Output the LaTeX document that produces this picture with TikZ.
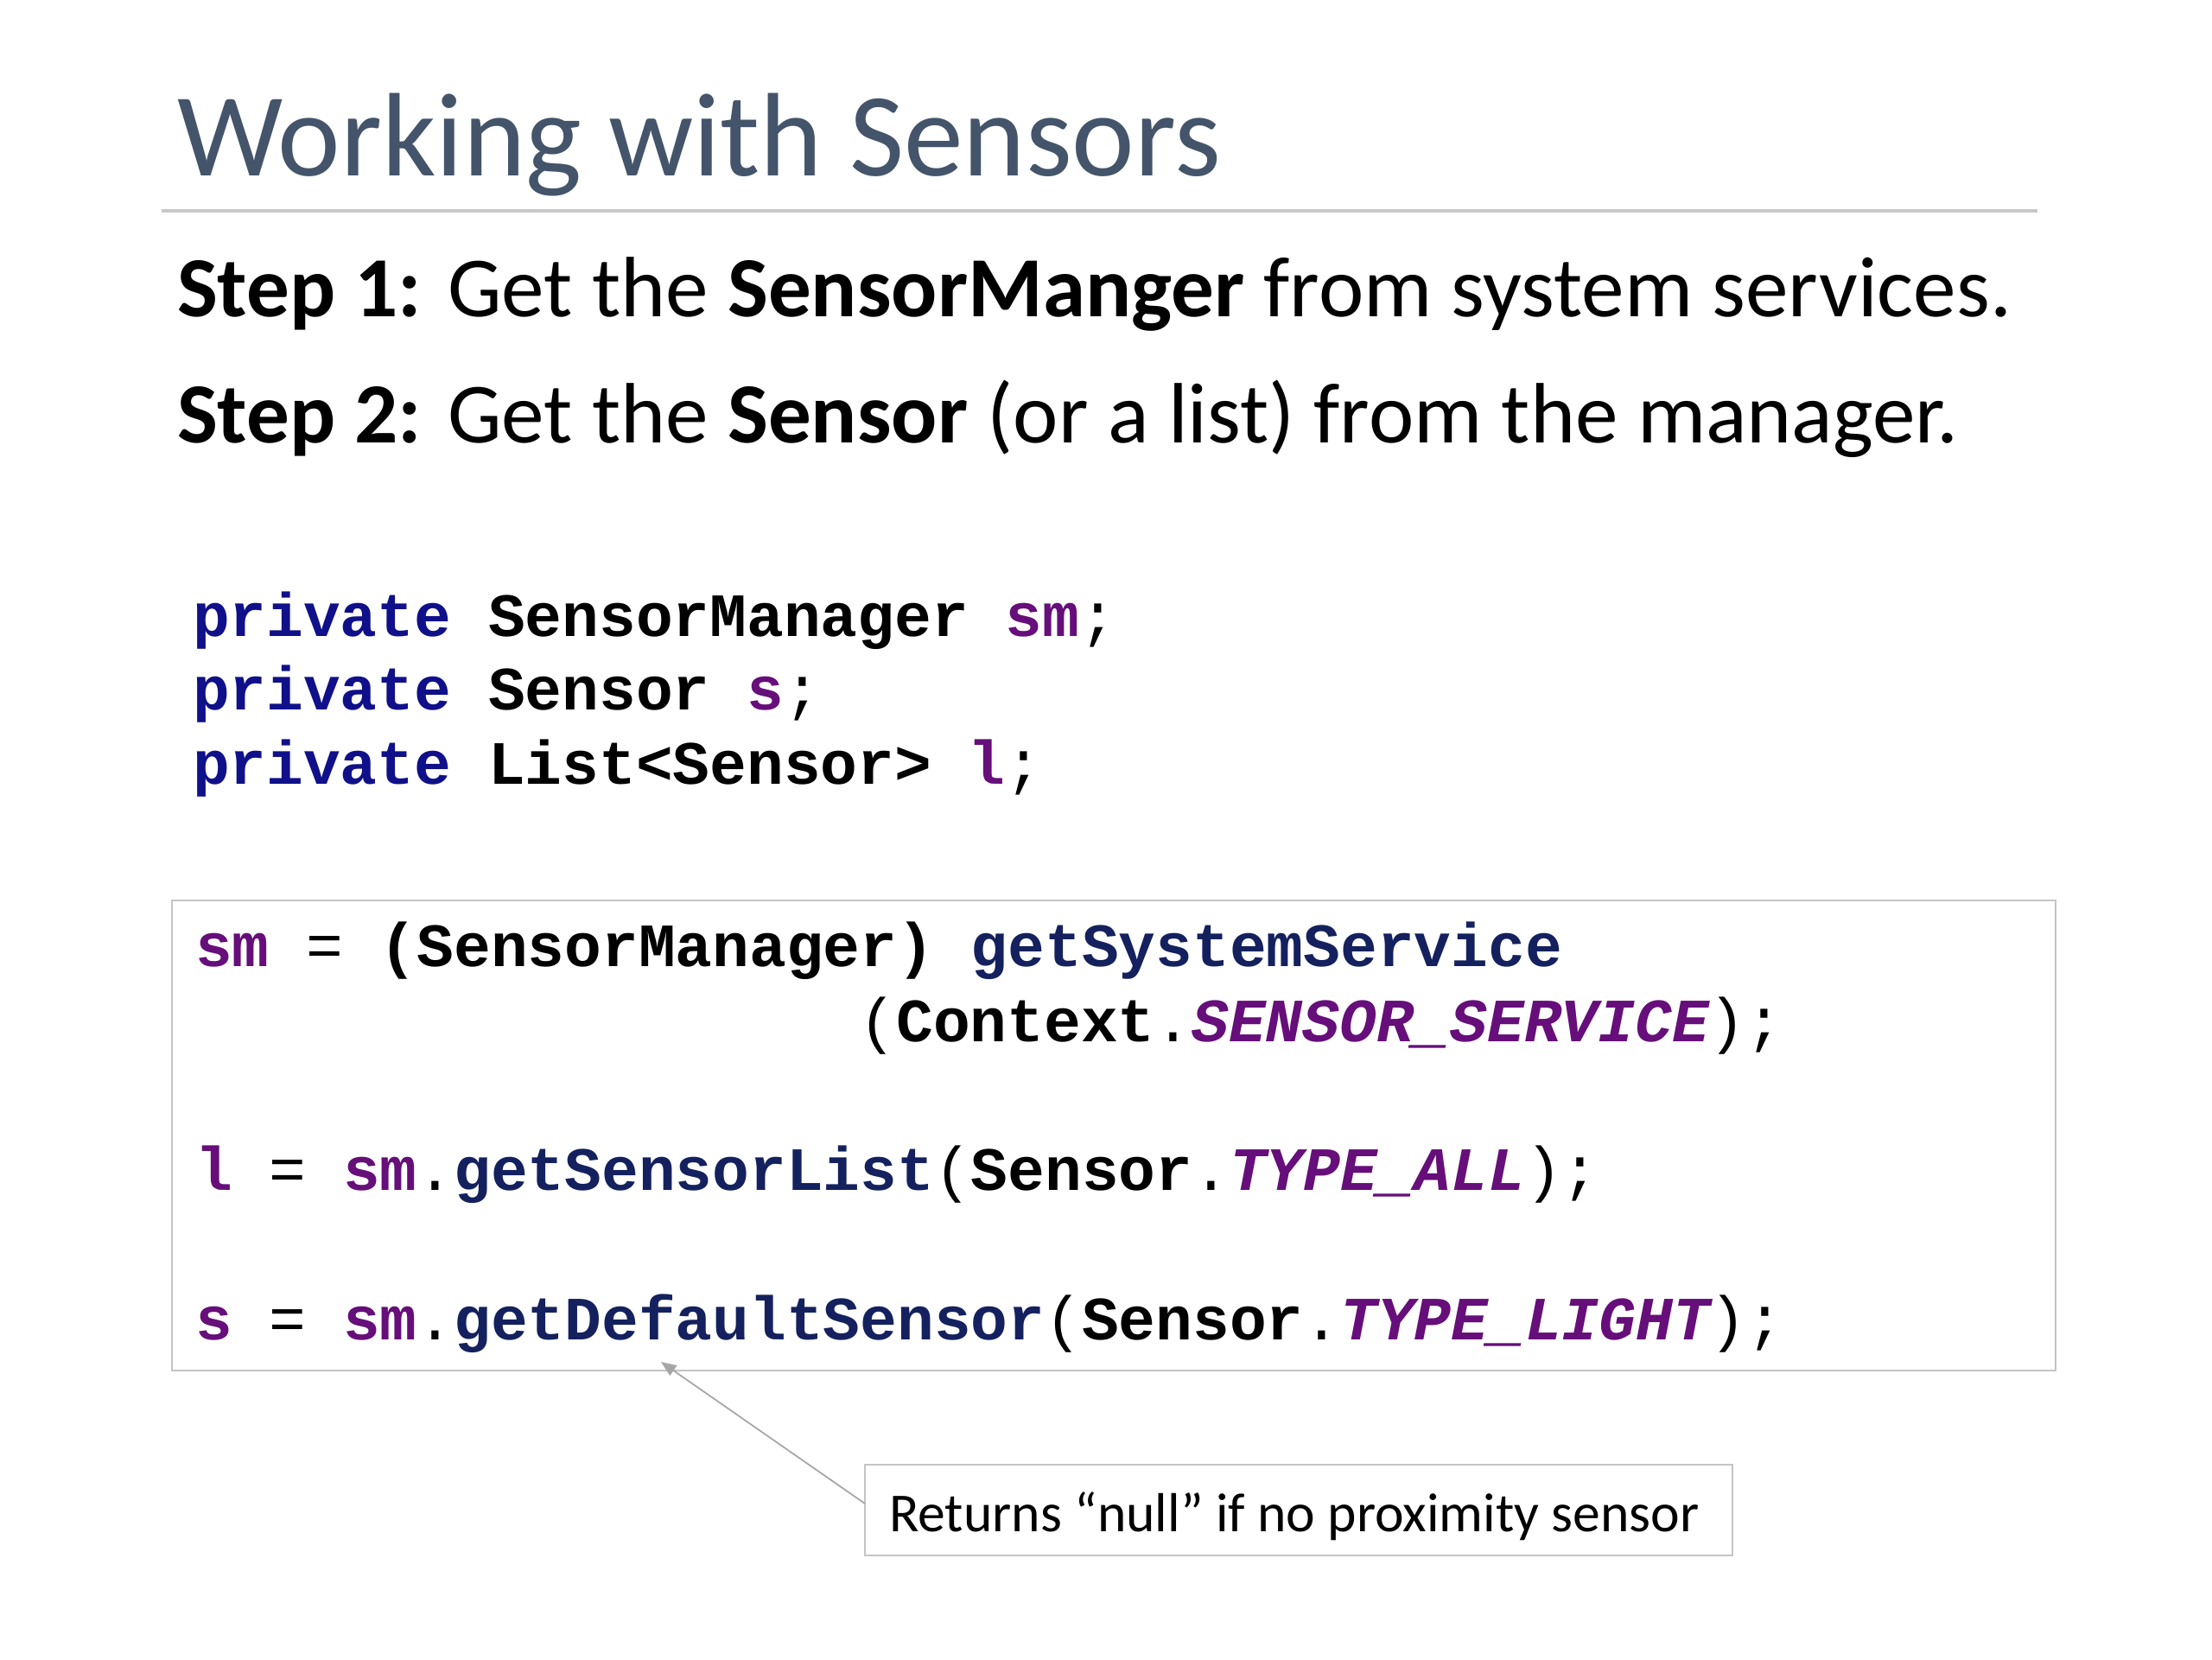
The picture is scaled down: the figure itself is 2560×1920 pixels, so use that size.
\documentclass[tikz,border=0pt]{standalone}
\usepackage{fontspec}
\setmainfont{Carlito}
\newfontfamily\codefont{Liberation Mono}
\usetikzlibrary{arrows.meta}
\definecolor{titlecol}{HTML}{44546A}
\definecolor{kwcol}{HTML}{10108A}
\definecolor{fieldcol}{HTML}{660E7A}
\definecolor{methcol}{HTML}{14215E}
\definecolor{rulecol}{HTML}{C8C8C8}
\definecolor{boxcol}{HTML}{C4C4C4}
\definecolor{arrcol}{HTML}{A6A6A6}
\newcommand{\kw}[1]{{\bfseries\color{kwcol}#1}}
\newcommand{\fld}[1]{{\bfseries\color{fieldcol}#1}}
\newcommand{\cst}[1]{{\bfseries\itshape\color{fieldcol}#1}}
\newcommand{\mth}[1]{{\bfseries\color{methcol}#1}}
\newcommand{\typ}[1]{{\bfseries\color{black}#1}}
\newcommand{\pun}[1]{{\mdseries\color{black}#1}}
\begin{document}
\begin{tikzpicture}[x=0.01cm,y=-0.01cm,
  txt/.style={anchor=base west,inner sep=0pt,outer sep=0pt},
  titletxt/.style={txt,font=\fontsize{39.1}{47}\selectfont,text=titlecol},
  steptxt/.style={txt,font=\fontsize{28.2}{34}\selectfont},
  codetxt/.style={txt,font=\codefont\fontsize{20.26}{24}\selectfont\frenchspacing},
  notetxt/.style={txt,font=\fontsize{18.1}{22}\selectfont},
  notebox/.style={draw=boxcol,line width=0.6pt,fill=white},
  codebox/.style={draw=boxcol,line width=0.6pt},
  pointer/.style={draw=arrcol,line width=0.5pt,-{Triangle[length=5pt,width=4pt]}}
]
\useasboundingbox[fill=white] (0,0) rectangle (2560,1920);

% title and rule
\node[titletxt] (title) at (205,203) {Working with Sensors};
\coordinate (ruleL) at (187,244);
\coordinate (ruleR) at (2358,244);
\draw[rulecol,line width=1pt] (ruleL) -- (ruleR);

% steps
\node[steptxt] (step1) at (205,366) {\textbf{Step 1:} Get the \textbf{SensorManger} from system services.};
\node[steptxt] (step2) at (205,512) {\textbf{Step 2:} Get the \textbf{Sensor} (or a list) from the manager.};

% declarations
\node[codetxt] (d1) at (223,736) {\kw{private} \typ{SensorManager} \fld{sm}\pun{;}};
\node[codetxt] (d2) at (223,821) {\kw{private} \typ{Sensor} \fld{s}\pun{;}};
\node[codetxt] (d3) at (223,907) {\kw{private} \typ{List<Sensor>} \fld{l}\pun{;}};

% code box
\draw[codebox] (199,1042) rectangle (2379,1586);
\node[codetxt] (c1) at (226,1118) {\fld{sm} \pun{=} \typ{(SensorManager)} \mth{getSystemService}};
\node[codetxt] (c2) at (994.6,1205) {\pun{(}\typ{Context}\pun{.}\cst{SENSOR\_SERVICE}\pun{)}\pun{;}};
\node[codetxt] (c3) at (226,1377) {\fld{l} \pun{=} \fld{sm}\pun{.}\mth{getSensorList}\pun{(}\typ{Sensor}\pun{.}\cst{TYPE\_ALL}\pun{)}\pun{;}};
\node[codetxt] (c4) at (226,1550) {\fld{s} \pun{=} \fld{sm}\pun{.}\mth{getDefaultSensor}\pun{(}\typ{Sensor}\pun{.}\cst{TYPE\_LIGHT}\pun{)}\pun{;}};

% callout
\draw[notebox] (1001,1695) rectangle (2005,1800);
\node[notetxt] (note) at (1029,1772) {Returns “null” if no proximity sensor};
\coordinate (noteW) at (1001,1740);
\coordinate (tip) at (765,1576);
\draw[pointer] (noteW) -- (tip);
\end{tikzpicture}
\end{document}
